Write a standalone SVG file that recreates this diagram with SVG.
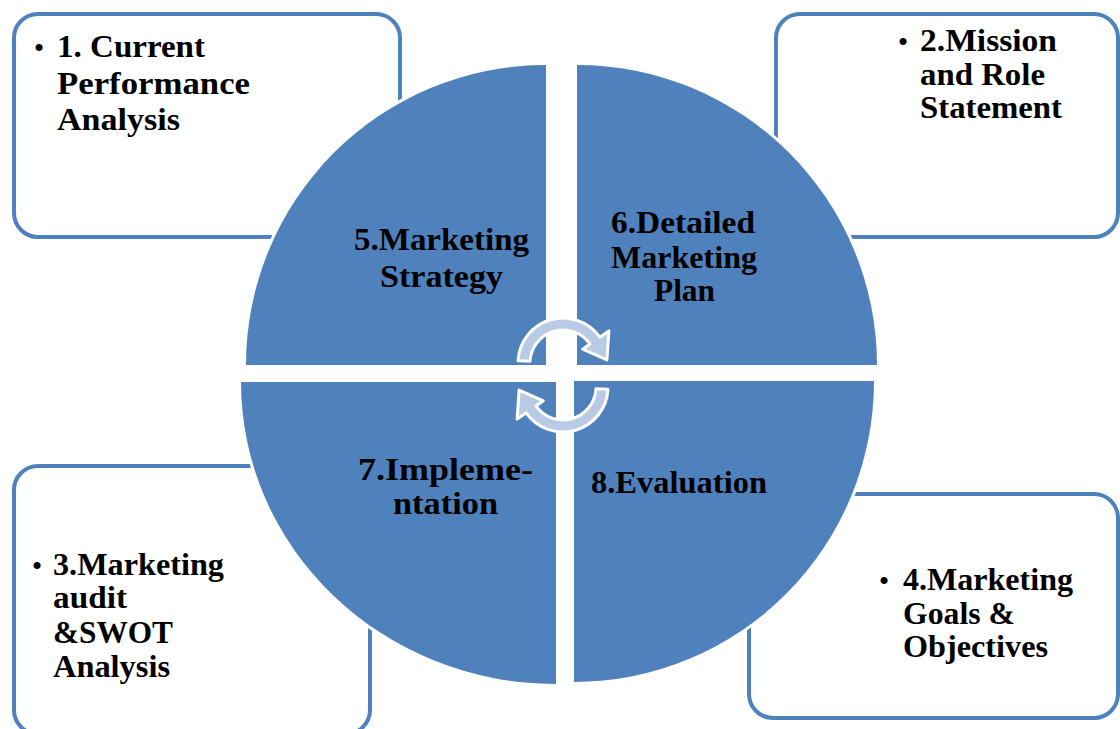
<svg xmlns="http://www.w3.org/2000/svg" width="1120" height="729" viewBox="0 0 1120 729">
  <style>
    .box { fill: #ffffff; stroke: #4f81bd; stroke-width: 4; }
    .quad { fill: #4f81bd; stroke: #ffffff; stroke-width: 6; paint-order: stroke; }
    .cycle { fill: #b9cae4; stroke: #ffffff; stroke-width: 3; stroke-linejoin: round; }
    text { font-family: "Liberation Serif", "Times New Roman", serif; font-weight: bold; font-size: 31px; fill: #000000; }
    .bul { text-anchor: middle; font-size: 26px; }
  </style>

  <!-- outer step boxes -->
  <g id="box1">
    <rect class="box" x="14" y="14" width="386" height="223" rx="24"/>
    <text class="bul" x="39" y="56">•</text>
    <text x="57" y="57" textLength="148" lengthAdjust="spacingAndGlyphs">1. Current</text>
    <text x="57" y="94" textLength="193" lengthAdjust="spacingAndGlyphs">Performance</text>
    <text x="57" y="130" textLength="123" lengthAdjust="spacingAndGlyphs">Analysis</text>
  </g>
  <g id="box2">
    <rect class="box" x="776" y="14" width="342" height="223" rx="24"/>
    <text class="bul" x="903" y="50">•</text>
    <text x="920" y="51" textLength="137" lengthAdjust="spacingAndGlyphs">2.Mission</text>
    <text x="920" y="85" textLength="125" lengthAdjust="spacingAndGlyphs">and Role</text>
    <text x="920" y="118" textLength="142" lengthAdjust="spacingAndGlyphs">Statement</text>
  </g>
  <g id="box3">
    <rect class="box" x="14" y="466" width="356" height="268" rx="24"/>
    <text class="bul" x="37" y="574">•</text>
    <text x="53" y="575" textLength="171" lengthAdjust="spacingAndGlyphs">3.Marketing</text>
    <text x="53" y="608" textLength="74" lengthAdjust="spacingAndGlyphs">audit</text>
    <text x="53" y="643" textLength="120" lengthAdjust="spacingAndGlyphs">&amp;SWOT</text>
    <text x="53" y="677" textLength="117" lengthAdjust="spacingAndGlyphs">Analysis</text>
  </g>
  <g id="box4">
    <rect class="box" x="749" y="494" width="369" height="224" rx="24"/>
    <text class="bul" x="884" y="589">•</text>
    <text x="903" y="590" textLength="170" lengthAdjust="spacingAndGlyphs">4.Marketing</text>
    <text x="903" y="624" textLength="112" lengthAdjust="spacingAndGlyphs">Goals &amp;</text>
    <text x="903" y="657" textLength="145" lengthAdjust="spacingAndGlyphs">Objectives</text>
  </g>

  <!-- central cycle quadrants -->
  <g id="quad5">
    <path class="quad" d="M546,365 L246,365 A300,300 0 0 1 546,65 Z"/>
    <text x="354" y="250" textLength="175" lengthAdjust="spacingAndGlyphs">5.Marketing</text>
    <text x="380" y="287" textLength="123" lengthAdjust="spacingAndGlyphs">Strategy</text>
  </g>
  <g id="quad6">
    <path class="quad" d="M577,365 L577,65 A300,300 0 0 1 877,365 Z"/>
    <text x="611" y="233" textLength="144" lengthAdjust="spacingAndGlyphs">6.Detailed</text>
    <text x="611" y="268" textLength="146" lengthAdjust="spacingAndGlyphs">Marketing</text>
    <text x="654" y="301" textLength="61" lengthAdjust="spacingAndGlyphs">Plan</text>
  </g>
  <g id="quad7">
    <path class="quad" d="M556,382 L556,684 A315,302 0 0 1 241,382 Z"/>
    <text x="358" y="480" textLength="175" lengthAdjust="spacingAndGlyphs">7.Impleme-</text>
    <text x="393" y="514" textLength="105" lengthAdjust="spacingAndGlyphs">ntation</text>
  </g>
  <g id="quad8">
    <path class="quad" d="M574,381 L874,381 A300,301 0 0 1 574,682 Z"/>
    <text x="591" y="493" textLength="176" lengthAdjust="spacingAndGlyphs">8.Evaluation</text>
  </g>

  <!-- circular arrows in the centre -->
  <g id="connectors">
    <defs>
      <path id="turn" d="M518.06,360.65 A45,45 0 0 1 599.86,337.19 L608.9,330.9 L606.9,359.9 L582.66,349.23 L590.03,344.07 A33,33 0 0 0 530.05,361.27 Z"/>
    </defs>
    <use href="#turn" class="cycle"/>
    <use href="#turn" class="cycle" transform="rotate(180 563 375)"/>
  </g>
</svg>
